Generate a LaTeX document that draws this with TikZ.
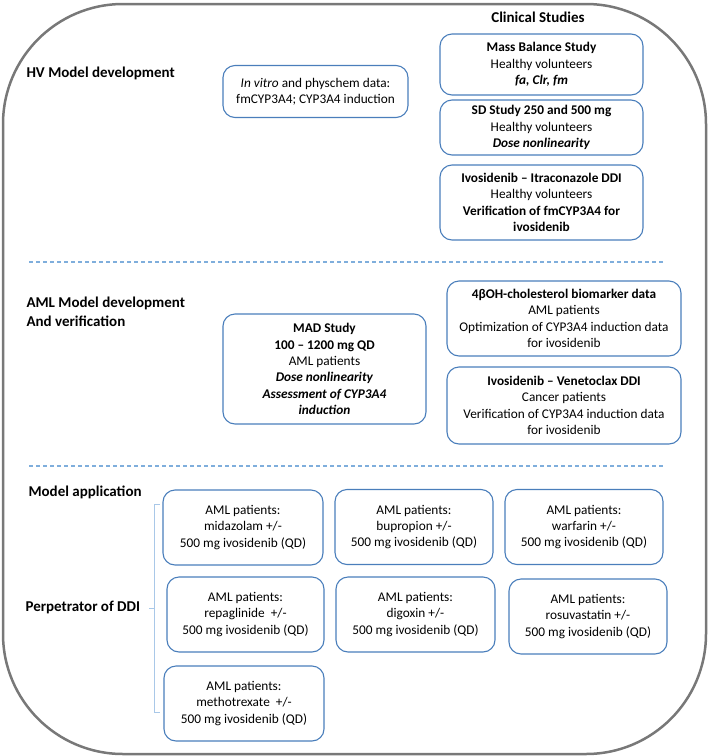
\documentclass[tikz,border=0pt]{standalone}
\usepackage{fontspec}
\setmainfont{Carlito}
\definecolor{boxblue}{HTML}{4A7EBB}
\definecolor{dashblue}{HTML}{7FAEDC}
\definecolor{bracecol}{HTML}{A9C8E8}
\definecolor{framegray}{HTML}{787878}
\begin{document}
\begin{tikzpicture}[x=1pt,y=-1pt,
    every node/.style={font=\fontsize{13.3}{16.3}\selectfont},
    studybox/.style={draw=boxblue, line width=1.1pt, rounded corners=12pt, align=center, inner sep=0pt},
    heading/.style={font=\fontsize{15}{19}\selectfont\bfseries, anchor=west, align=left},
    sepline/.style={draw=dashblue, line width=1.1pt, dash pattern=on 4pt off 3pt}]
    \useasboundingbox (0,0) rectangle (709,756);
    \draw[framegray, line width=2.5pt, rounded corners=120pt] (3,4) rectangle (706,754);

    \node[heading, anchor=center] (clin) at (538,17) {Clinical Studies};
    \node[heading] (hv) at (23,73) {HV Model development};
    \node[studybox, minimum width=185pt, minimum height=52pt] (invitro) at (315.5,91.5)
        {\textit{In vitro} and physchem data:\\ fmCYP3A4; CYP3A4 induction};
    \node[studybox, minimum width=203pt, minimum height=61pt] (massbal) at (541.5,64.5)
        {\textbf{Mass Balance Study}\\ Healthy volunteers\\ \textbf{\textit{fa, Clr, fm}}};
    \node[studybox, minimum width=203pt, minimum height=55pt] (sdstudy) at (541.5,127.5)
        {\textbf{SD Study 250 and 500 mg}\\ Healthy volunteers\\ \textbf{\textit{Dose nonlinearity}}};
    \node[studybox, minimum width=203pt, minimum height=75pt] (itraco) at (541.5,202.5)
        {\textbf{Ivosidenib – Itraconazole DDI}\\ Healthy volunteers\\ \textbf{Verification of fmCYP3A4 for}\\ \textbf{ivosidenib}};

    \draw[sepline] (29,262) -- (663,262);

    \node[heading] (aml) at (23,312) {AML Model development\\ And verification};
    \node[studybox, minimum width=203pt, minimum height=110pt] (mad) at (324.5,369)
        {\textbf{MAD Study}\\ \textbf{100 – 1200 mg QD}\\ AML patients\\ \textbf{\textit{Dose nonlinearity}}\\ \textbf{\textit{Assessment of CYP3A4}}\\ \textbf{\textit{induction}}};
    \node[studybox, minimum width=234pt, minimum height=75pt] (biomark) at (564,318.5)
        {\textbf{4βOH-cholesterol biomarker data}\\ AML patients\\ Optimization of CYP3A4 induction data\\ for ivosidenib};
    \node[studybox, minimum width=234pt, minimum height=77pt] (veneto) at (564,405.5)
        {\textbf{Ivosidenib – Venetoclax DDI}\\ Cancer patients\\ Verification of CYP3A4 induction data\\ for ivosidenib};

    \draw[sepline] (29,466) -- (663,466);

    \node[heading] (modapp) at (25,492) {Model application};
    \node[heading] (perp) at (22,607) {Perpetrator of DDI};
    \draw[bracecol, line width=1pt] (160,504) -- (154,504) -- (154,712) -- (160,712);
    \draw[bracecol, line width=1pt] (154,608) -- (149,608);

    \node[studybox, minimum width=160pt, minimum height=75pt] (midaz) at (243,527.5)
        {AML patients:\\ midazolam +/-\\ 500 mg ivosidenib (QD)};
    \node[studybox, minimum width=158pt, minimum height=75pt] (bupro) at (414,527)
        {AML patients:\\ bupropion +/-\\ 500 mg ivosidenib (QD)};
    \node[studybox, minimum width=158pt, minimum height=75pt] (warf) at (584,527)
        {AML patients:\\ warfarin +/-\\ 500 mg ivosidenib (QD)};
    \node[studybox, minimum width=157pt, minimum height=75pt] (repag) at (245.5,614.5)
        {AML patients:\\ repaglinide~ +/-\\ 500 mg ivosidenib (QD)};
    \node[studybox, minimum width=159pt, minimum height=75pt] (digox) at (415.5,614.5)
        {AML patients:\\ digoxin +/-\\ 500 mg ivosidenib (QD)};
    \node[studybox, minimum width=158pt, minimum height=75pt] (rosuva) at (588,616.5)
        {AML patients:\\ rosuvastatin +/-\\ 500 mg ivosidenib (QD)};
    \node[studybox, minimum width=160pt, minimum height=75pt] (methot) at (244,703.5)
        {AML patients:\\ methotrexate~ +/-\\ 500 mg ivosidenib (QD)};
\end{tikzpicture}
\end{document}
